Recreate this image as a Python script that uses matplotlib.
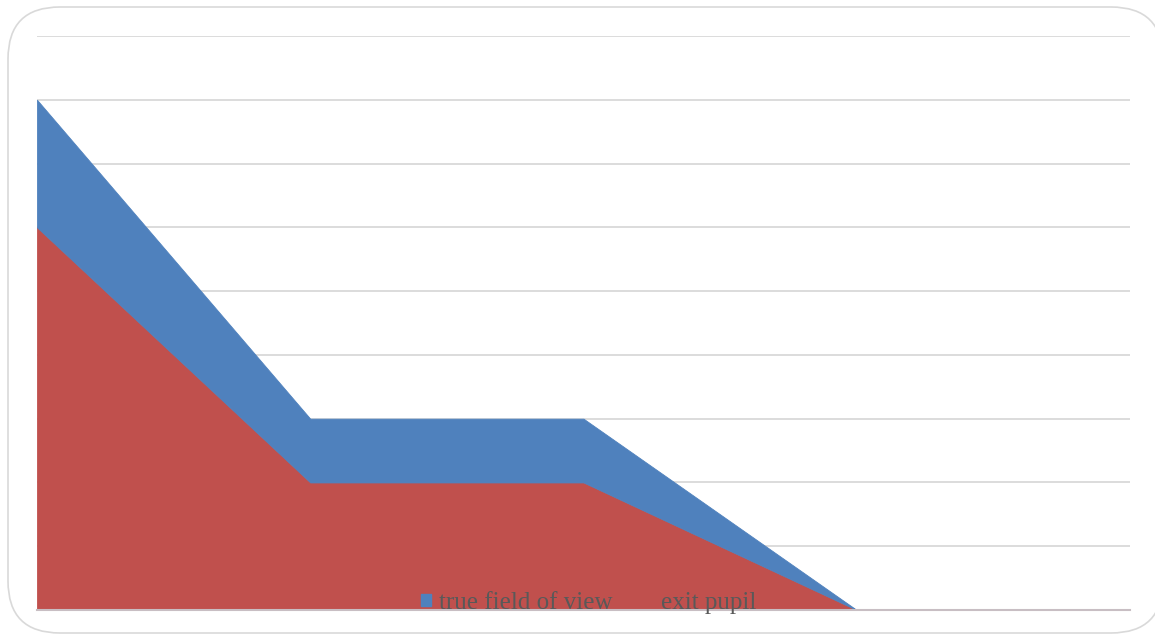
import matplotlib
matplotlib.use("Agg")
import matplotlib.pyplot as plt
from matplotlib.patches import FancyBboxPatch, Patch

categories = [1, 2, 3, 4, 5]
exit_pupil = [6, 2, 2, 0, 0]
true_fov = [2, 1, 1, 0, 0]
y_ticks = list(range(0, 10))

W, H = 1155, 637
fig = plt.figure(figsize=(W / 100, H / 100), dpi=100)
fig.patch.set_facecolor("white")

# rounded chart border
box = FancyBboxPatch((8 / W, 1 - 633 / H), (1163 - 8) / W, (633 - 7) / H,
                     boxstyle="round,pad=0,rounding_size=0.045",
                     transform=fig.transFigure, facecolor="white",
                     edgecolor="#D9D9D9", linewidth=1.2, mutation_aspect=W / H,
                     zorder=-10)
fig.patches.append(box)

ax = fig.add_axes([37 / W, 1 - 610 / H, (1130 - 37) / W, (610 - 36) / H])
ax.set_zorder(5)
ax.set_facecolor("none")
x = list(range(len(categories)))
polys = ax.stackplot(x, exit_pupil, true_fov, colors=["#C0504D", "#4F81BD"],
                     zorder=2)
for p in polys:
    p.set_edgecolor("face")
    p.set_linewidth(0.6)
ax.set_xlim(0, len(categories) - 1)
ax.set_ylim(0, 9)
ax.set_yticks(y_ticks)
ax.yaxis.grid(True, color="#D9D9D9", linewidth=1.3, zorder=1)
ax.set_axisbelow(True)
ax.tick_params(left=False, bottom=False, labelleft=False, labelbottom=False)
for s in ["left", "right", "top"]:
    ax.spines[s].set_visible(False)
ax.spines["bottom"].set_color("#C8BEC3")
ax.spines["bottom"].set_linewidth(1.5)
ax.spines["bottom"].set_zorder(3)

handles = [Patch(color="#4F81BD", label="true field of view"),
           Patch(color="#C0504D", label="exit pupil")]
leg = ax.legend(handles=handles, loc="center", bbox_to_anchor=(0.5046, 0.012),
                ncol=2, frameon=False, handlelength=0.4, handleheight=0.4,
                handletextpad=0.32, columnspacing=1.2,
                prop={"family": "Liberation Serif", "size": 18})
for t in leg.get_texts():
    t.set_color("#595959")
leg.set_zorder(5)

fig.savefig("out.png", dpi=100, facecolor="white")
